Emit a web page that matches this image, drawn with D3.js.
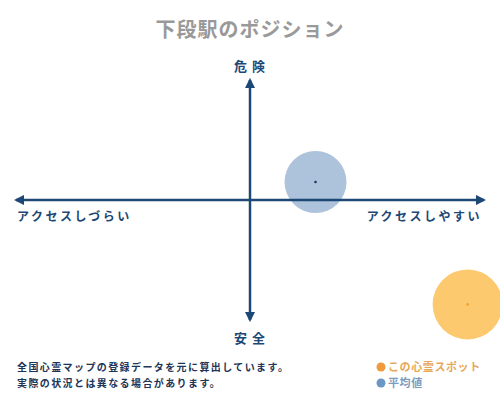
<!DOCTYPE html>
<html>
<head>
<meta charset="utf-8">
<script src="https://cdn.jsdelivr.net/npm/d3@7"></script>
<style>
  html, body { margin: 0; padding: 0; background: #fff; }
  text { font-family: "Noto Sans CJK JP", "Noto Sans", sans-serif; }
</style>
</head>
<body>
<div id="chart"></div>
<script>
// タイトルと軸ラベル
const title = "下段駅のポジション";
const xLabels = ["アクセスしづらい", "アクセスしやすい"];
const yLabels = ["安全", "危険"];

// 位置データ (-1 〜 1)
const names = ["平均値", "この心霊スポット"];
const xValues = [0.28, 0.93];
const yValues = [0.15, -0.87];

const notes = [
  "全国心霊マップの登録データを元に算出しています。",
  "実際の状況とは異なる場合があります。"
];

const width = 500;
const height = 400;
const navy = "#1d4876";
const fills = ["#adc2db", "#fdc96e"];
const dotColors = ["#1d3557", "#f0a030"];
const legendColors = ["#6b97c4", "#ef9a3c"];
const legendText = ["#7d9bbd", "#e7a75a"];

const svg = d3.create("svg")
  .attr("width", width)
  .attr("height", height)
  .attr("viewBox", [0, 0, width, height]);

d3.select("#chart").append(() => svg.node());

// スケール
const x = d3.scaleLinear().domain([-1, 1]).range([16, 484]);
const y = d3.scaleLinear().domain([-1, 1]).range([320, 80]);

// 矢印
const defs = svg.append("defs");
defs.append("marker")
  .attr("id", "arrow")
  .attr("viewBox", "0 0 10 10")
  .attr("refX", 8)
  .attr("refY", 5)
  .attr("markerWidth", 4.2)
  .attr("markerHeight", 4.2)
  .attr("orient", "auto-start-reverse")
  .append("path")
  .attr("d", "M0,0L10,5L0,10z")
  .attr("fill", navy);

// タイトル
svg.append("text")
  .attr("x", width / 2)
  .attr("y", 37)
  .attr("text-anchor", "middle")
  .attr("font-size", 20)
  .attr("font-weight", "bold")
  .attr("letter-spacing", 1)
  .attr("fill", "#999")
  .text(title);

// 円
const pts = names.map((n, i) => ({ name: n, x: xValues[i], y: yValues[i], i }));
svg.append("g")
  .selectAll("circle")
  .data(pts)
  .join("circle")
  .attr("cx", d => x(d.x))
  .attr("cy", d => y(d.y))
  .attr("r", d => d.i === 0 ? 31 : 35)
  .attr("fill", d => fills[d.i]);

// 軸
svg.append("line")
  .attr("x1", x(-1)).attr("x2", x(1))
  .attr("y1", y(0)).attr("y2", y(0))
  .attr("stroke", navy)
  .attr("stroke-width", 2.5)
  .attr("marker-start", "url(#arrow)")
  .attr("marker-end", "url(#arrow)");

svg.append("line")
  .attr("x1", x(0)).attr("x2", x(0))
  .attr("y1", y(-1)).attr("y2", y(1))
  .attr("stroke", navy)
  .attr("stroke-width", 2.5)
  .attr("marker-start", "url(#arrow)")
  .attr("marker-end", "url(#arrow)");

// 中心点
svg.append("g")
  .selectAll("circle")
  .data(pts)
  .join("circle")
  .attr("cx", d => x(d.x))
  .attr("cy", d => y(d.y))
  .attr("r", 1.3)
  .attr("fill", d => dotColors[d.i]);

// 軸ラベル
svg.append("text")
  .attr("x", x(-1) + 1)
  .attr("y", y(0) + 21)
  .attr("font-size", 12)
  .attr("font-weight", "bold")
  .attr("letter-spacing", 2.5)
  .attr("fill", navy)
  .text(xLabels[0]);

svg.append("text")
  .attr("x", x(1) - 2)
  .attr("y", y(0) + 21)
  .attr("text-anchor", "end")
  .attr("font-size", 12)
  .attr("font-weight", "bold")
  .attr("letter-spacing", 2.5)
  .attr("fill", navy)
  .text(xLabels[1]);

svg.append("text")
  .attr("x", x(0) + 2)
  .attr("y", y(1) - 9)
  .attr("text-anchor", "middle")
  .attr("font-size", 13)
  .attr("font-weight", "bold")
  .attr("letter-spacing", 5)
  .attr("fill", navy)
  .text(yLabels[1]);

svg.append("text")
  .attr("x", x(0) + 2)
  .attr("y", y(-1) + 23)
  .attr("text-anchor", "middle")
  .attr("font-size", 13)
  .attr("font-weight", "bold")
  .attr("letter-spacing", 5)
  .attr("fill", navy)
  .text(yLabels[0]);

// 注記
svg.append("g")
  .selectAll("text")
  .data(notes)
  .join("text")
  .attr("x", 17)
  .attr("y", (d, i) => 371 + i * 16)
  .attr("font-size", 10)
  .attr("font-weight", "bold")
  .attr("letter-spacing", 1.4)
  .attr("fill", "#1d3557")
  .text(d => d);

// 凡例
const legend = svg.append("g")
  .selectAll("g")
  .data([1, 0])
  .join("g")
  .attr("transform", (d, i) => `translate(381,${367 + i * 16})`);

legend.append("circle")
  .attr("r", 4.5)
  .attr("fill", d => legendColors[d]);

legend.append("text")
  .attr("x", 7)
  .attr("y", 4)
  .attr("font-size", 11)
  .attr("font-weight", "bold")
  .attr("letter-spacing", 0.6)
  .attr("fill", d => legendText[d])
  .text(d => names[d]);
</script>
</body>
</html>
